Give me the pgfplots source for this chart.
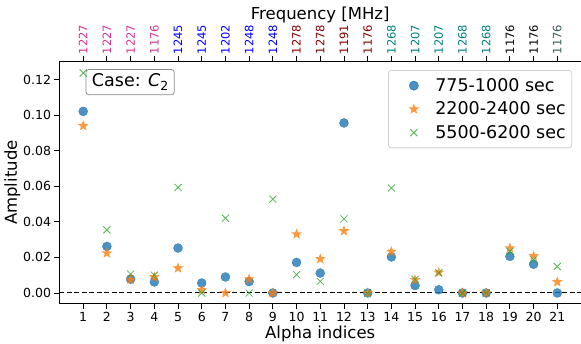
\documentclass[border=0pt]{standalone}
\usepackage{pgfplots}
\pgfplotsset{compat=1.18}
\usepackage{fontspec}
\setmainfont{DejaVu Sans}
\definecolor{tabblue}{RGB}{31,119,180}
\definecolor{taborange}{RGB}{255,127,14}
\definecolor{tabgreen}{RGB}{44,160,44}
\definecolor{lblpink}{RGB}{214,51,145}
\definecolor{lblblue}{RGB}{0,0,255}
\definecolor{lbldred}{RGB}{139,0,0}
\definecolor{lblteal}{RGB}{0,128,128}
\definecolor{lblslate}{RGB}{60,90,90}
\pgfdeclareplotmark{fstar}{%
  \pgfpathmoveto{\pgfpointpolar{90}{\pgfplotmarksize}}%
  \pgfpathlineto{\pgfpointpolar{126}{0.42\pgfplotmarksize}}%
  \pgfpathlineto{\pgfpointpolar{162}{\pgfplotmarksize}}%
  \pgfpathlineto{\pgfpointpolar{198}{0.42\pgfplotmarksize}}%
  \pgfpathlineto{\pgfpointpolar{234}{\pgfplotmarksize}}%
  \pgfpathlineto{\pgfpointpolar{270}{0.42\pgfplotmarksize}}%
  \pgfpathlineto{\pgfpointpolar{306}{\pgfplotmarksize}}%
  \pgfpathlineto{\pgfpointpolar{342}{0.42\pgfplotmarksize}}%
  \pgfpathlineto{\pgfpointpolar{18}{\pgfplotmarksize}}%
  \pgfpathlineto{\pgfpointpolar{54}{0.42\pgfplotmarksize}}%
  \pgfpathclose
  \pgfusepathqfill}
\begin{document}
\begin{tikzpicture}
\path[use as bounding box] (-59.5pt,-40pt) rectangle (521.5pt,304pt);
\begin{axis}[
  at={(0,0)}, anchor=south west,
  scale only axis, width=521.5pt, height=242.7pt,
  xmin=0, xmax=22, ymin=-0.0062, ymax=0.1304,
  xtick={1,...,21},
  ytick={0,0.02,0.04,0.06,0.08,0.10,0.12},
  axis x line*=bottom, axis y line*=left,
  axis line style={line width=1pt, -},
  tick align=outside, major tick length=5pt,
  tick style={line width=0.9pt, black},
  xticklabel style={font=\fontsize{12.5}{14}\selectfont},
  yticklabel style={font=\fontsize{12.5}{14}\selectfont, /pgf/number format/.cd, fixed, fixed zerofill, precision=2},
  /pgf/number format/assume math mode=true,
  scaled y ticks=false,
  xlabel={Alpha indices}, ylabel={Amplitude},
  label style={font=\fontsize{16.5}{18}\selectfont},
  xlabel style={yshift=3pt},
  ylabel style={yshift=-4pt},
  legend style={at={(0.983,0.964)}, anchor=north east, draw=black!18, line width=0.8pt, rounded corners=3pt,
    font=\fontsize{17.5}{19}\selectfont, inner xsep=3pt, inner ysep=6pt, row sep=5pt,
    nodes={inner xsep=3pt, inner ysep=2pt}},
  legend cell align=left,
  legend image code/.code={\path (0pt,0pt) (40pt,0pt); \draw[#1] plot coordinates {(22pt,0pt)};},
  /tikz/every even column/.append style={column sep=6pt},
]
\addplot[only marks, mark=*, mark size=4.5pt, tabblue, opacity=0.8]
  coordinates {(1,0.1022) (2,0.0262) (3,0.0078) (4,0.0062) (5,0.0253) (6,0.0056) (7,0.0090) (8,0.0064) (9,0.0000) (10,0.0172) (11,0.0112) (12,0.0957) (13,0.0000) (14,0.0203) (15,0.0042) (16,0.0018) (17,0.0000) (18,0.0000) (19,0.0206) (20,0.0162) (21,0.0000)};
\addlegendentry{775-1000 sec}
\addplot[only marks, mark=fstar, mark size=5.6pt, taborange, opacity=0.8]
  coordinates {(1,0.0941) (2,0.0224) (3,0.0075) (4,0.0090) (5,0.0140) (6,0.0018) (7,0.0000) (8,0.0078) (9,0.0000) (10,0.0331) (11,0.0191) (12,0.0349) (13,0.0000) (14,0.0233) (15,0.0074) (16,0.0115) (17,0.0000) (18,0.0000) (19,0.0252) (20,0.0208) (21,0.0062)};
\addlegendentry{2200-2400 sec}
\addplot[only marks, mark=x, mark size=5pt, tabgreen, mark options={line width=0.8pt}, opacity=0.8]
  coordinates {(1,0.1238) (2,0.0355) (3,0.0107) (4,0.0100) (5,0.0594) (6,0.0000) (7,0.0421) (8,0.0000) (9,0.0528) (10,0.0103) (11,0.0065) (12,0.0417) (13,0.0000) (14,0.0591) (15,0.0077) (16,0.0114) (17,0.0000) (18,0.0000) (19,0.0234) (20,0.0187) (21,0.0149)};
\addlegendentry{5500-6200 sec}
\addplot[black, line width=1pt, dash pattern=on 5pt off 2.5pt, forget plot] coordinates {(0,0) (22,0)};
\node[anchor=north west, draw=black!45, line width=0.8pt, rounded corners=3pt, fill=white, font=\fontsize{17.5}{19}\selectfont, inner xsep=6pt, inner ysep=4.5pt]
  at (rel axis cs:0.05,0.968) {Case: \textit{C}\raisebox{-0.35ex}{\fontsize{12.5}{12}\selectfont 2}};
\end{axis}
\begin{axis}[
  at={(0,0)}, anchor=south west,
  scale only axis, width=521.5pt, height=242.7pt,
  xmin=0, xmax=22, ymin=-0.0062, ymax=0.1304,
  axis x line*=top, axis y line=none,
  axis line style={line width=1pt, -},
  tick align=outside, major tick length=5pt,
  tick style={line width=0.9pt, black},
  xtick={1,...,21},
  xticklabels={\textcolor{lblpink}{1227},\textcolor{lblpink}{1227},\textcolor{lblpink}{1227},\textcolor{lblpink}{1176},
    \textcolor{lblblue}{1245},\textcolor{lblblue}{1245},\textcolor{lblblue}{1202},\textcolor{lblblue}{1248},\textcolor{lblblue}{1248},
    \textcolor{lbldred}{1278},\textcolor{lbldred}{1278},\textcolor{lbldred}{1191},\textcolor{lbldred}{1176},
    \textcolor{lblteal}{1268},\textcolor{lblteal}{1207},\textcolor{lblteal}{1207},\textcolor{lblteal}{1268},\textcolor{lblteal}{1268},
    \textcolor{black}{1176},\textcolor{black}{1176},\textcolor{lblslate}{1176}},
  xticklabel style={font=\fontsize{11.5}{12}\selectfont, rotate=90, anchor=west, inner xsep=2pt},
  xlabel={Frequency [MHz]},
  xlabel style={font=\fontsize{16.5}{18}\selectfont, yshift=-4pt},
]
\end{axis}
\end{tikzpicture}
\end{document}
